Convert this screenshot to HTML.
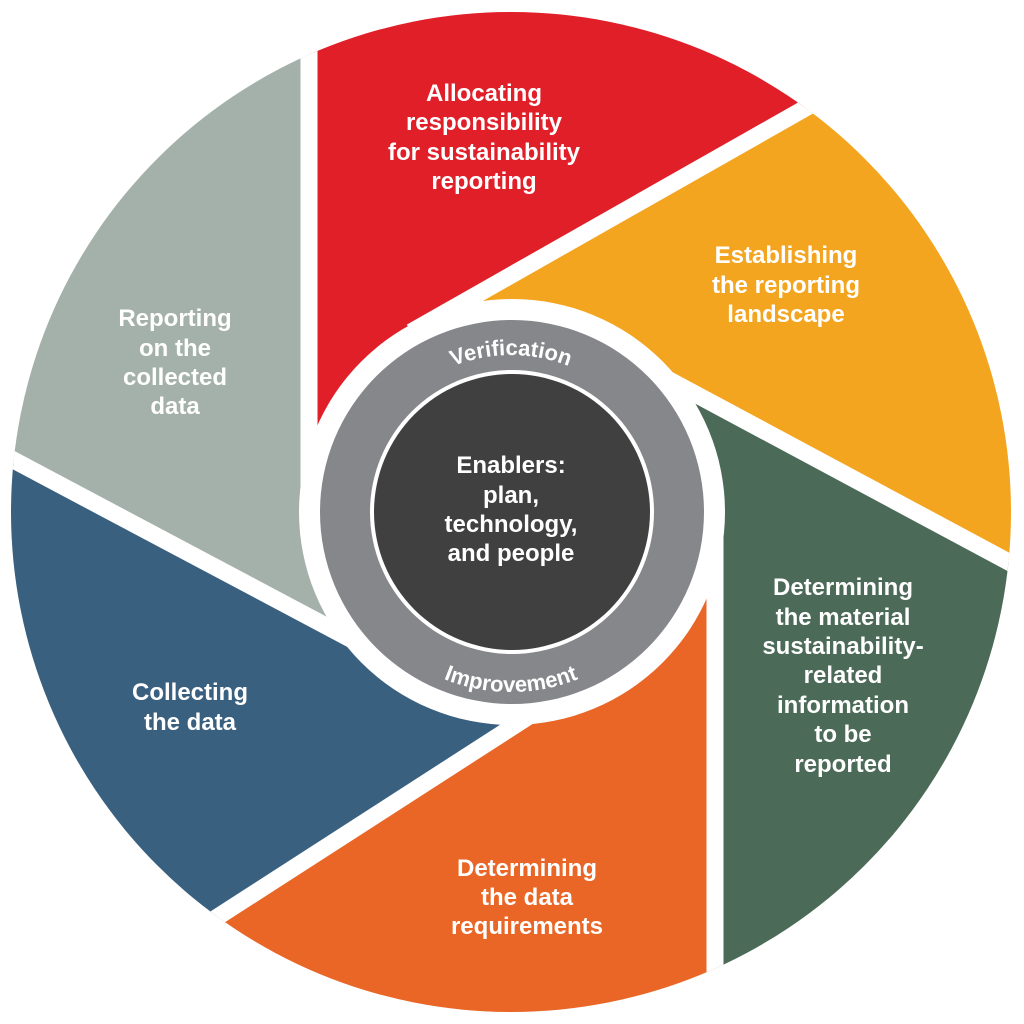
<!DOCTYPE html>
<html><head><meta charset="utf-8"><style>html,body{margin:0;padding:0;background:#fff;overflow:hidden;width:1024px;height:1024px}svg{display:block}</style></head>
<body>
<svg width="1024" height="1024" viewBox="0 0 1024 1024" xmlns="http://www.w3.org/2000/svg">
<defs>
<clipPath id="oc"><circle cx="511" cy="512" r="500"/></clipPath>
<path id="topArc" d="M 354 512 A 157 157 0 0 1 668 512"/>
<path id="botArc" d="M 331 512 A 180 180 0 0 0 691 512"/>
</defs>
<g clip-path="url(#oc)">
<polygon fill="#e01f28" points="309,-50 309,512 512,512 411,332 950,26 950,-50"/>
<polygon fill="#f3a51f" points="512,512 411,332 950,26 1100,26 1100,611 602,344"/>
<polygon fill="#4c6a58" points="512,512 602,344 1100,611 1100,1100 715,1100 715,512"/>
<polygon fill="#e96626" points="512,512 715,512 715,1100 67,1100 67,1014 610,664"/>
<polygon fill="#3a6080" points="512,512 610,664 67,1014 -100,1014 -100,419 -64,419 424,678"/>
<polygon fill="#a4b1aa" points="512,512 424,678 -64,419 -100,-50 309,-50 309,512"/>
<g stroke="#fff" stroke-width="17">
<line x1="309" y1="-50" x2="309" y2="512"/>
<line x1="411" y1="332" x2="950" y2="26"/>
<line x1="602" y1="344" x2="1100" y2="611"/>
<line x1="715" y1="512" x2="715" y2="1100"/>
<line x1="610" y1="664" x2="67" y2="1014"/>
<line x1="424" y1="678" x2="-64" y2="419"/>
</g>
</g>
<circle cx="512" cy="512" r="213" fill="#fff"/>
<circle cx="512" cy="512" r="192" fill="#86878b"/>
<circle cx="512" cy="512" r="142" fill="#fff"/>
<circle cx="512" cy="512" r="138" fill="#404040"/>
<g font-family="Liberation Sans, sans-serif" font-weight="bold" fill="#fff" font-size="22">
<text><textPath href="#topArc" startOffset="50%" text-anchor="middle">Verification</textPath></text>
<text><textPath href="#botArc" startOffset="50%" text-anchor="middle">Improvement</textPath></text>
</g>
<g font-family="Liberation Sans, sans-serif" font-weight="bold" fill="#fff" font-size="24" text-anchor="middle">
<text x="484" y="101">Allocating</text>
<text x="484" y="130">responsibility</text>
<text x="484" y="160">for sustainability</text>
<text x="484" y="189">reporting</text>
<text x="786" y="263">Establishing</text>
<text x="786" y="293">the reporting</text>
<text x="786" y="322">landscape</text>
<text x="175" y="326">Reporting</text>
<text x="175" y="356">on the</text>
<text x="175" y="385">collected</text>
<text x="175" y="414">data</text>
<text x="511" y="473">Enablers:</text>
<text x="511" y="503">plan,</text>
<text x="511" y="532">technology,</text>
<text x="511" y="561">and people</text>
<text x="843" y="595">Determining</text>
<text x="843" y="625">the material</text>
<text x="843" y="654">sustainability-</text>
<text x="843" y="683">related</text>
<text x="843" y="713">information</text>
<text x="843" y="742">to be</text>
<text x="843" y="772">reported</text>
<text x="190" y="700">Collecting</text>
<text x="190" y="730">the data</text>
<text x="527" y="876">Determining</text>
<text x="527" y="905">the data</text>
<text x="527" y="934">requirements</text>
</g>
</svg>
</body></html>
